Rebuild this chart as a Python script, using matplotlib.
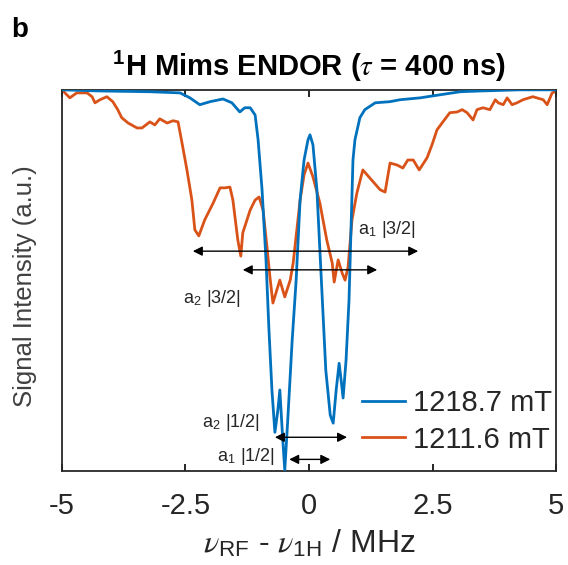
import matplotlib
matplotlib.use('Agg')
from matplotlib import pyplot as plt

plt.rcParams['font.family'] = ['Liberation Sans', 'DejaVu Sans']
plt.rcParams['mathtext.fontset'] = 'stix'

# 1218.7 mT trace
blue_freq = [-5.00, -4.23, -3.22, -2.61, -2.41, -2.21, -2.00, -1.74, -1.56, -1.40,
             -1.30, -1.19, -1.09, -1.03, -0.95, -0.87, -0.81, -0.75, -0.69, -0.63,
             -0.59, -0.53, -0.49, -0.43, -0.34, -0.26, -0.18, -0.10, -0.02, 0.02,
             0.08, 0.16, 0.22, 0.28, 0.34, 0.43, 0.49, 0.55, 0.61, 0.65,
             0.69, 0.75, 0.81, 0.85, 0.89, 0.93, 1.03, 1.13, 1.34, 1.64,
             1.84, 2.25, 2.65, 3.06, 3.46, 4.27, 5.00]
blue_signal = [1.000, 0.997, 0.995, 0.992, 0.979, 0.961, 0.969, 0.976, 0.966, 0.942,
               0.953, 0.953, 0.934, 0.869, 0.738, 0.554, 0.370, 0.213, 0.102, 0.160,
               0.213, 0.081, 0.003, 0.134, 0.344, 0.501, 0.711, 0.816, 0.869, 0.882,
               0.856, 0.738, 0.580, 0.423, 0.265, 0.147, 0.126, 0.213, 0.283, 0.239,
               0.192, 0.291, 0.449, 0.633, 0.816, 0.869, 0.927, 0.948, 0.966, 0.969,
               0.974, 0.979, 0.987, 0.995, 0.997, 1.000, 1.000]

# 1211.6 mT trace
orange_freq = [-5.00, -4.84, -4.70, -4.49, -4.39, -4.33, -4.23, -4.09, -3.97, -3.87,
               -3.79, -3.66, -3.48, -3.38, -3.22, -3.12, -3.02, -2.87, -2.75, -2.65,
               -2.57, -2.47, -2.37, -2.31, -2.23, -2.11, -1.94, -1.80, -1.70, -1.60,
               -1.54, -1.44, -1.38, -1.34, -1.19, -1.09, -1.01, -0.93, -0.85, -0.79,
               -0.73, -0.59, -0.49, -0.38, -0.32, -0.18, -0.10, -0.02, 0.08, 0.22,
               0.36, 0.47, 0.51, 0.59, 0.67, 0.73, 0.79, 0.87, 0.97, 1.09,
               1.23, 1.44, 1.54, 1.64, 1.78, 1.90, 2.00, 2.11, 2.23, 2.39,
               2.49, 2.59, 2.71, 2.85, 3.00, 3.10, 3.20, 3.32, 3.40, 3.52,
               3.66, 3.77, 3.83, 3.93, 4.01, 4.11, 4.21, 4.33, 4.53, 4.74,
               4.82, 4.92, 4.98]
orange_signal = [1.000, 0.979, 0.992, 0.992, 0.982, 0.966, 0.974, 0.982, 0.969, 0.948,
                 0.927, 0.913, 0.900, 0.900, 0.916, 0.908, 0.924, 0.913, 0.919, 0.916,
                 0.861, 0.790, 0.711, 0.633, 0.617, 0.659, 0.703, 0.743, 0.743, 0.745,
                 0.711, 0.606, 0.564, 0.625, 0.685, 0.711, 0.719, 0.685, 0.588, 0.509,
                 0.441, 0.501, 0.457, 0.501, 0.546, 0.711, 0.777, 0.808, 0.772, 0.703,
                 0.606, 0.546, 0.496, 0.554, 0.520, 0.501, 0.535, 0.659, 0.730, 0.790,
                 0.769, 0.738, 0.732, 0.808, 0.803, 0.795, 0.816, 0.816, 0.790, 0.822,
                 0.856, 0.895, 0.916, 0.940, 0.942, 0.948, 0.940, 0.921, 0.948, 0.953,
                 0.948, 0.974, 0.966, 0.961, 0.979, 0.961, 0.966, 0.974, 0.982, 0.974,
                 0.961, 0.992, 0.995]

series_labels = ['1218.7 mT', '1211.6 mT']

# hyperfine splitting arrows
arrow_labels = [r'a$_\mathregular{1}$ |3/2|', r'a$_\mathregular{2}$ |3/2|',
                r'a$_\mathregular{2}$ |1/2|', r'a$_\mathregular{1}$ |1/2|']
arrow_left = [-2.35, -1.34, -0.69, -0.40]
arrow_right = [2.21, 1.38, 0.77, 0.43]
arrow_level = [0.577, 0.528, 0.089, 0.031]


def main():
    fig = plt.figure(figsize=(5.68, 5.65), dpi=100)
    ax = fig.add_axes([0.109, 0.166, 0.870, 0.675])

    ax.plot(blue_freq, blue_signal, color='#0072BD', lw=2.0, label=series_labels[0], zorder=3)
    ax.plot(orange_freq, orange_signal, color='#D95319', lw=2.0, label=series_labels[1], zorder=2)

    for left, right, level in zip(arrow_left, arrow_right, arrow_level):
        ax.annotate('', xy=(right, level), xytext=(left, level),
                    arrowprops=dict(arrowstyle='<|-|>', color='black', lw=1.0,
                                    mutation_scale=14, shrinkA=0, shrinkB=0),
                    zorder=4)

    text_pos = [(0.99, 0.633), (-2.55, 0.454), (-2.17, 0.129), (-1.86, 0.039)]
    for label, (tx, ty) in zip(arrow_labels, text_pos):
        ax.text(tx, ty, label, fontsize=13, color='#262626', va='center', ha='left')

    ax.set_xlim(-5, 5)
    ax.set_ylim(0, 1.0)
    ax.set_xticks([-5, -2.5, 0, 2.5, 5])
    ax.set_xticklabels(['-5', '-2.5', '0', '2.5', '5'])
    ax.set_yticks([])
    ax.tick_params(axis='x', direction='in', top=True, length=5, width=1.2,
                   labelsize=21, labelcolor='#262626', pad=15)
    for spine in ax.spines.values():
        spine.set_linewidth(1.3)
        spine.set_color('#262626')

    ax.set_xlabel(r'$\nu_{\mathregular{RF}}$ - $\nu_{\mathregular{1H}}$ / MHz',
                  fontsize=23, color='#262626', labelpad=6)
    ax.set_ylabel('Signal Intensity (a.u.)', fontsize=18.5, color='#404040')
    ax.yaxis.set_label_coords(-0.05, 0.486)
    ax.set_title(r'$^{\mathregular{1}}$H Mims ENDOR ($\tau$ = 400 ns)',
                 fontsize=21, fontweight='bold', pad=10)

    ax.legend(loc='lower right', bbox_to_anchor=(1.022, 0.008), fontsize=21,
              frameon=False, handlelength=1.5, handletextpad=0.27, labelspacing=0.28,
              borderaxespad=0.1, labelcolor='#262626')

    fig.text(0.02, 0.935, 'b', fontsize=20, fontweight='bold')

    plt.savefig('out.png', dpi=100)


if __name__ == '__main__':
    main()
